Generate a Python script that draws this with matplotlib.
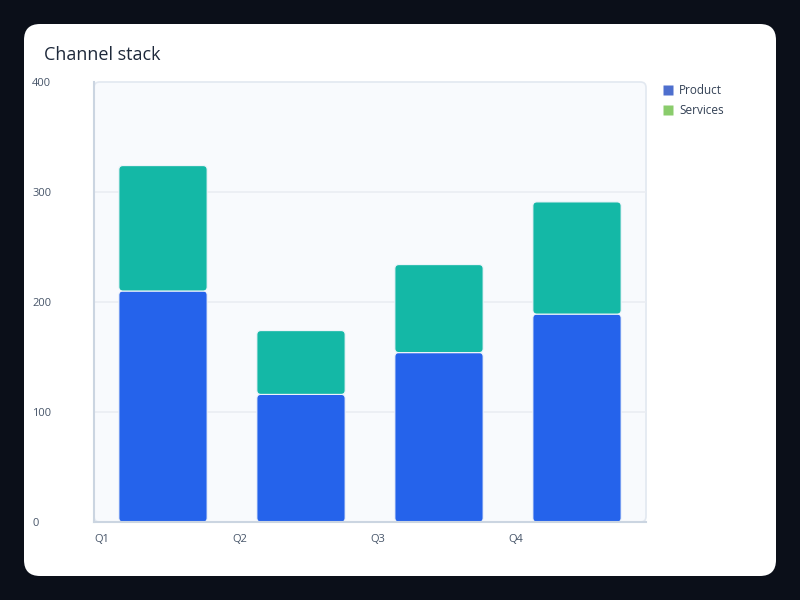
import matplotlib.pyplot as plt
from matplotlib.patches import FancyBboxPatch
from matplotlib.lines import Line2D

# data
quarters = ["Q1", "Q2", "Q3", "Q4"]
product = [210, 116, 154, 189]
services = [114, 58, 80, 102]

plt.rcParams['font.family'] = ['Open Sans', 'DejaVu Sans']

fig = plt.figure(figsize=(8, 6), dpi=100)
fig.patch.set_facecolor('#0b0f19')

# white card
card = FancyBboxPatch((24, 24), 752, 552, boxstyle="round,pad=0,rounding_size=16",
                      transform=None, facecolor='white', edgecolor='none', zorder=-5)
fig.patches.append(card)

fig.text(44 / 800, 1 - 55 / 600, "Channel stack", fontsize=13, color='#1e293b',
         va='center', ha='left')

ax = fig.add_axes([94 / 800, 78 / 600, 552 / 800, 440 / 600])
ax.patch.set_visible(False)

# plot area background
bg = FancyBboxPatch((0, 0), 1, 1, boxstyle="round,pad=0,rounding_size=0.01",
                    mutation_aspect=552 / 440, transform=ax.transAxes,
                    facecolor='#f8fafd', edgecolor='#e2e8f0', linewidth=1.2, zorder=0,
                    clip_on=False)
ax.add_patch(bg)

x = list(range(len(quarters)))
width = 0.64
ax.set_xlim(-0.5, 3.5)
ax.set_ylim(0, 400)

for yv in [100, 200, 300]:
    ax.axhline(yv, color='#eaedf3', linewidth=1.2, zorder=1)

# rounded bars
r_px = 4
rx = r_px / (552 / 4)
ry = r_px / (440 / 400)
def rbar(xc, bottom, h, color):
    p = FancyBboxPatch((xc - width / 2, bottom), width, h,
                       boxstyle=f"round,pad=0,rounding_size={rx}",
                       mutation_aspect=ry / rx, facecolor=color,
                       edgecolor='#f1f5fb', linewidth=0.8, zorder=3)
    ax.add_patch(p)

for i in x:
    rbar(i, 0, product[i], '#2563eb')
    rbar(i, product[i], services[i], '#14b8a6')

for s in ['top', 'right']:
    ax.spines[s].set_visible(False)
ax.spines['left'].set_color('#cbd5e1')
ax.spines['bottom'].set_color('#cbd5e1')
ax.spines['left'].set_linewidth(1.5)
ax.spines['bottom'].set_linewidth(1.5)
ax.spines['left'].set_zorder(4)
ax.spines['bottom'].set_zorder(4)

ax.set_yticks([0, 100, 200, 300, 400])
ax.set_yticklabels(['0', '100', '200', '300', '400'], ha='left')
ax.tick_params(axis='y', length=0, pad=44.6, labelsize=8, labelcolor='#475569')
ax.set_xticks([xi - 0.5 for xi in x])
ax.set_xticklabels(quarters, ha='left')
ax.tick_params(axis='x', length=0, pad=8.5, labelsize=8, labelcolor='#475569')

handles = [Line2D([], [], marker='s', linestyle='none', markersize=7.5,
                  markerfacecolor='#4e6fce', markeredgecolor='none', label='Product'),
           Line2D([], [], marker='s', linestyle='none', markersize=7.5,
                  markerfacecolor='#8acc6c', markeredgecolor='none', label='Services')]
fig.legend(handles=handles, loc='upper left', bbox_to_anchor=(659 / 800, 1 - 79 / 600),
           frameon=False, fontsize=8.5, labelcolor='#334155', handlelength=0.8,
           handletextpad=0.5, labelspacing=0.6, borderaxespad=0)

fig.savefig('out.png', dpi=100, facecolor=fig.get_facecolor())
